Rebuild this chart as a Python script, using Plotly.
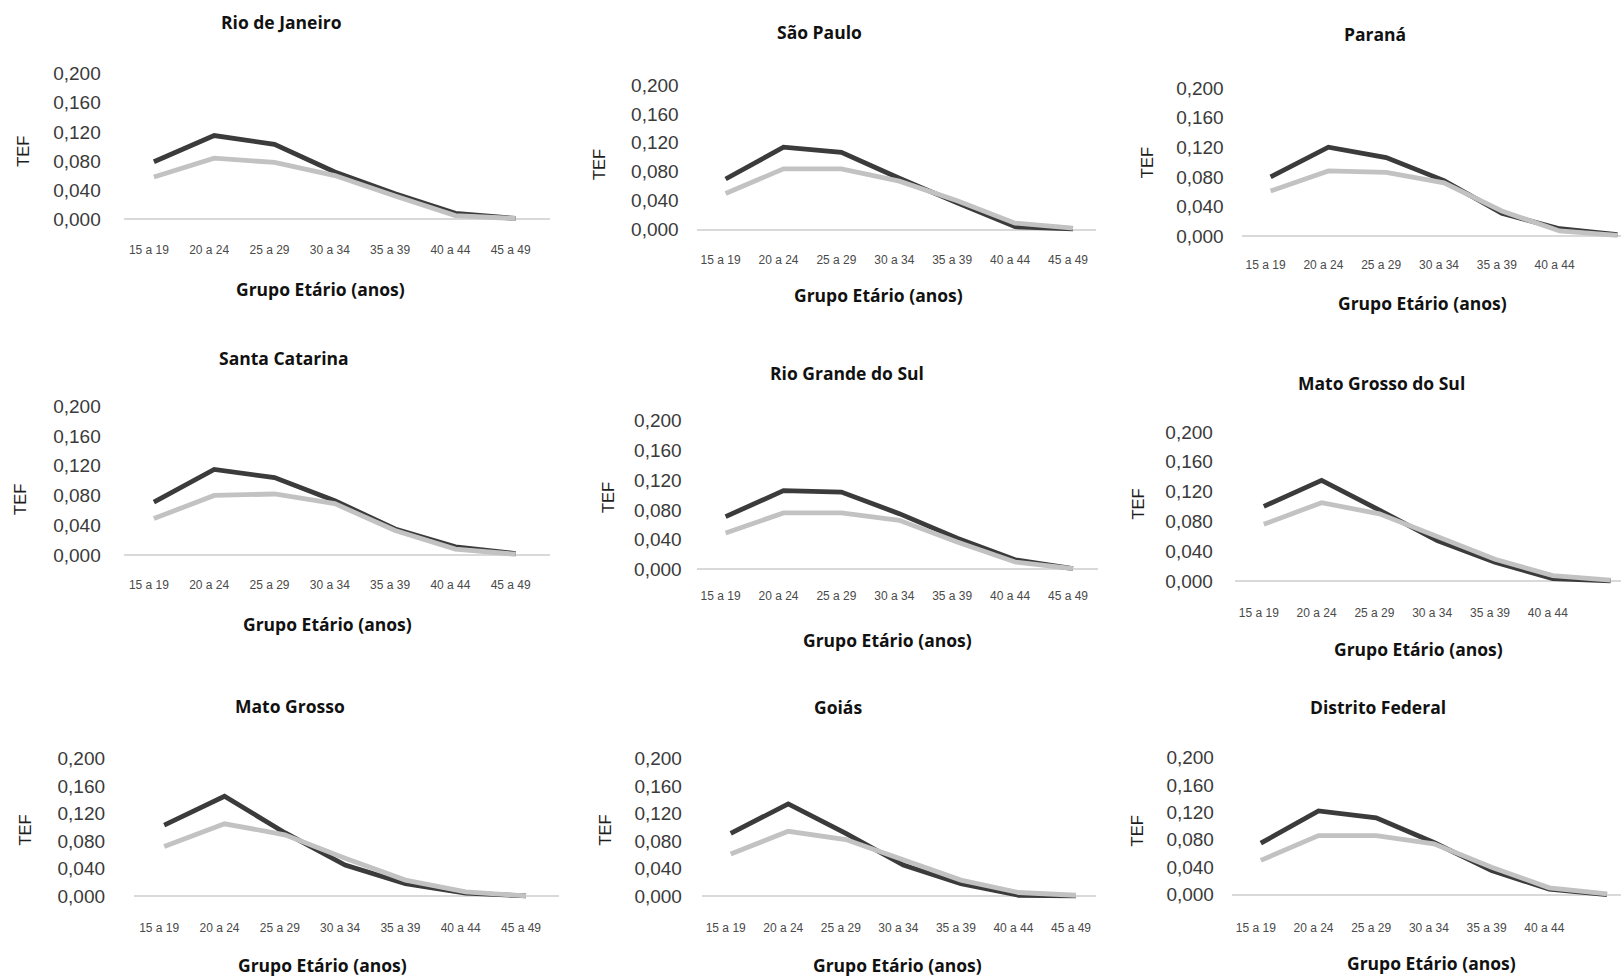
import plotly.graph_objects as go

# Faixas etárias e escala do eixo TEF
faixas = ["15 a 19", "20 a 24", "25 a 29", "30 a 34", "35 a 39", "40 a 44", "45 a 49"]
ticks_tef = [0.0, 0.04, 0.08, 0.12, 0.16, 0.20]

estados = ["Rio de Janeiro", "São Paulo", "Paraná",
           "Santa Catarina", "Rio Grande do Sul", "Mato Grosso do Sul",
           "Mato Grosso", "Goiás", "Distrito Federal"]

# Série escura (a) e série clara (b) de cada estado
tef_rj_a = [0.079, 0.115, 0.103, 0.065, 0.035, 0.008, 0.001]
tef_rj_b = [0.058, 0.084, 0.078, 0.060, 0.032, 0.005, 0.001]
tef_sp_a = [0.070, 0.114, 0.107, 0.071, 0.037, 0.004, 0.001]
tef_sp_b = [0.050, 0.084, 0.084, 0.067, 0.040, 0.009, 0.002]
tef_pr_a = [0.080, 0.120, 0.106, 0.075, 0.031, 0.010, 0.002]
tef_pr_b = [0.061, 0.088, 0.086, 0.072, 0.034, 0.007, 0.001]
tef_sc_a = [0.071, 0.115, 0.104, 0.073, 0.035, 0.011, 0.002]
tef_sc_b = [0.049, 0.080, 0.082, 0.069, 0.033, 0.008, 0.001]
tef_rs_a = [0.071, 0.106, 0.104, 0.075, 0.042, 0.013, 0.001]
tef_rs_b = [0.049, 0.076, 0.076, 0.066, 0.037, 0.010, 0.001]
tef_ms_a = [0.100, 0.135, 0.095, 0.054, 0.025, 0.003, 0.000]
tef_ms_b = [0.076, 0.105, 0.090, 0.060, 0.029, 0.007, 0.001]
tef_mt_a = [0.103, 0.145, 0.092, 0.045, 0.018, 0.004, 0.000]
tef_mt_b = [0.072, 0.105, 0.089, 0.055, 0.023, 0.006, 0.000]
tef_go_a = [0.091, 0.134, 0.091, 0.045, 0.018, 0.001, 0.000]
tef_go_b = [0.061, 0.094, 0.082, 0.053, 0.023, 0.005, 0.001]
tef_df_a = [0.075, 0.122, 0.112, 0.076, 0.035, 0.008, 0.000]
tef_df_b = [0.050, 0.086, 0.086, 0.074, 0.040, 0.010, 0.001]

series_a = [tef_rj_a, tef_sp_a, tef_pr_a, tef_sc_a, tef_rs_a, tef_ms_a, tef_mt_a, tef_go_a, tef_df_a]
series_b = [tef_rj_b, tef_sp_b, tef_pr_b, tef_sc_b, tef_rs_b, tef_ms_b, tef_mt_b, tef_go_b, tef_df_b]

posicoes = list(range(len(faixas)))

W, H = 1621, 976
Y_LO, Y_HI = -0.012, 0.205
DESLOC_ROTULO = 5.0  # rótulos das faixas ficam um pouco à esquerda dos pontos

# Geometria de cada painel em pixels:
# posição do 1o ponto, passo entre faixas, limite direito (em faixas; None = borda),
# pixel de 0 e de 0,200, título, título do eixo x, rótulo TEF,
# borda direita dos rótulos y, centro vertical dos rótulos x
painel = [
    dict(c0=153.9, sp=60.3, xr=6.57, y0=214.2, y2=67.3, t=(281.2, 15.1), xt=(320.5, 285.1), tef=(22.7, 145.4), yr=100.3, xl=245.5),
    dict(c0=725.6, sp=57.9, xr=6.39, y0=224.7, y2=78.7, t=(819.8, 25.5), xt=(878.7, 290.4), tef=(599.6, 158.9), yr=678.2, xl=255.0),
    dict(c0=1270.6, sp=57.8, xr=None, y0=231.3, y2=81.7, t=(1375.0, 27.2), xt=(1422.7, 298.5), tef=(1147.3, 157.3), yr=1223.3, xl=260.0),
    dict(c0=153.9, sp=60.3, xr=6.57, y0=553.1, y2=402.9, t=(284.3, 354.0), xt=(327.7, 623.0), tef=(20.7, 496.8), yr=100.3, xl=583.4),
    dict(c0=725.6, sp=57.9, xr=6.43, y0=567.7, y2=417.5, t=(846.7, 369.6), xt=(887.0, 638.6), tef=(607.9, 494.7), yr=682.0, xl=594.8),
    dict(c0=1263.8, sp=57.8, xr=None, y0=579.2, y2=428.9, t=(1381.7, 379.2), xt=(1418.3, 648.1), tef=(1138.3, 501.9), yr=1212.7, xl=611.2),
    dict(c0=164.2, sp=60.3, xr=6.54, y0=897.2, y2=758.5, t=(289.5, 705.3), xt=(322.5, 966.5), tef=(24.8, 830.4), yr=105.4, xl=929.5),
    dict(c0=730.7, sp=57.55, xr=6.34, y0=897.2, y2=758.5, t=(838.4, 706.4), xt=(897.3, 966.5), tef=(604.8, 830.4), yr=682.3, xl=929.5),
    dict(c0=1260.8, sp=57.7, xr=None, y0=895.9, y2=757.4, t=(1378.3, 706.3), xt=(1431.7, 965.0), tef=(1136.7, 831.4), yr=1214.3, xl=928.9),
]

COR_A = "#3b3b3b"
COR_B = "#c2c2c2"
FONTE_EIXO = "Liberation Sans, Arial, sans-serif"
FONTE_TITULO = "Open Sans, Noto Sans, sans-serif"

fig = go.Figure()
anotacoes = []

for i, (nome, p) in enumerate(zip(estados, painel)):
    k = "" if i == 0 else str(i + 1)
    xa, ya = "x" + k, "y" + k

    xr = p["xr"] if p["xr"] is not None else (W - p["c0"]) / p["sp"]
    left_px = p["c0"] - 0.5 * p["sp"]
    right_px = min(W, p["c0"] + xr * p["sp"])
    xr = (right_px - p["c0"]) / p["sp"]
    ppu = (p["y0"] - p["y2"]) / 0.2
    bot_px = p["y0"] - Y_LO * ppu
    top_px = p["y2"] - (Y_HI - 0.2) * ppu

    fig.add_trace(go.Scatter(x=posicoes, y=series_a[i], mode="lines", name="Série 1",
                             line=dict(color=COR_A, width=4.8), xaxis=xa, yaxis=ya,
                             showlegend=False, hoverinfo="skip"))
    fig.add_trace(go.Scatter(x=posicoes, y=series_b[i], mode="lines", name="Série 2",
                             line=dict(color=COR_B, width=4.8), xaxis=xa, yaxis=ya,
                             showlegend=False, hoverinfo="skip"))

    y_standoff = int(round(max(0, (left_px - p["yr"]) - 1)))
    x_standoff = int(round(max(0, (p["xl"] - 7) - bot_px - 2)))
    desloc = DESLOC_ROTULO / p["sp"]

    fig.layout["xaxis" + k] = dict(
        domain=[left_px / W, right_px / W], anchor=ya,
        range=[-0.5, xr], showgrid=False, showline=False, zeroline=False,
        tickmode="array", tickvals=[x - desloc for x in posicoes], ticktext=faixas,
        ticks="", tickfont=dict(family=FONTE_EIXO, size=12, color="#4a4a4a"),
        ticklabelstandoff=x_standoff, ticklabeloverflow="hide past div", fixedrange=True,
    )
    fig.layout["yaxis" + k] = dict(
        domain=[1 - bot_px / H, 1 - top_px / H], anchor=xa,
        range=[Y_LO, Y_HI], tickvals=ticks_tef, tickformat=".3f",
        showgrid=False, showline=False, zeroline=True,
        zerolinecolor="#d9d9d9", zerolinewidth=1.5,
        ticks="", tickfont=dict(family=FONTE_EIXO, size=19, color="#3a3a3a"),
        ticklabelstandoff=y_standoff, fixedrange=True,
    )

    anotacoes.append(dict(text="<b>" + nome + "</b>", x=p["t"][0] / W, y=1 - p["t"][1] / H,
                          xref="paper", yref="paper", showarrow=False,
                          xanchor="center", yanchor="middle",
                          font=dict(family=FONTE_TITULO, size=17.5, color="#111111")))
    anotacoes.append(dict(text="<b>Grupo Etário (anos)</b>", x=p["xt"][0] / W, y=1 - p["xt"][1] / H,
                          xref="paper", yref="paper", showarrow=False,
                          xanchor="center", yanchor="middle",
                          font=dict(family=FONTE_TITULO, size=17.5, color="#111111")))
    anotacoes.append(dict(text="TEF", x=p["tef"][0] / W, y=1 - p["tef"][1] / H,
                          xref="paper", yref="paper", showarrow=False, textangle=-90,
                          xanchor="center", yanchor="middle",
                          font=dict(family=FONTE_EIXO, size=16.5, color="#1e1e1e")))

fig.update_layout(
    width=W, height=H, autosize=False,
    margin=dict(l=0, r=0, t=0, b=0, pad=0),
    paper_bgcolor="white", plot_bgcolor="white",
    separators=",.",
    annotations=anotacoes,
    showlegend=False,
)

fig.write_html("out.html", config=dict(displayModeBar=False))
